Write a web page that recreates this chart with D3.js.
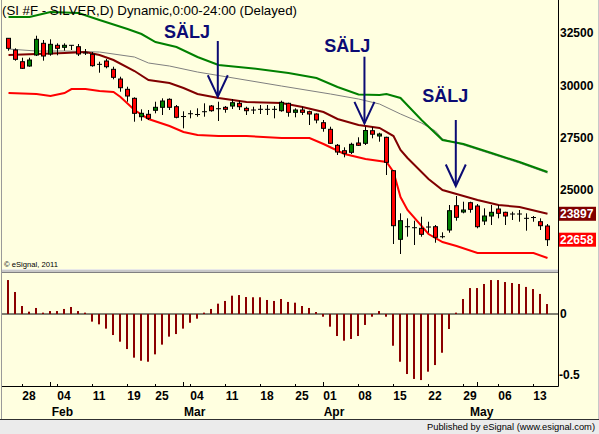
<!DOCTYPE html>
<html><head><meta charset="utf-8">
<script src="https://cdn.jsdelivr.net/npm/d3@7"></script>
<style>
body{margin:0;background:#fff}
svg{display:block}
text{font-family:"Liberation Sans",Arial,sans-serif}
</style>
</head><body>
<svg id="c" width="599" height="434"></svg>
<script>
// ---- data ----
const opens  = [32284,31725,31166,30960,31486,32045,31534,31950,31854,31950,31883,31582,31519,31041,31199,30802,30339,29846,29416,28537,28651,28843,28986,29368,29015,28546,28680,28642,28776,29048,28919,28986,29048,29177,28938,28857,28890,28890,28890,28824,29177,28747,28857,28776,28666,28250,27934,27170,26912,26835,27280,27265,27868,27614,27552,25956,22676,23279,23231,23202,23264,23279,22801,23121,24283,23981,24426,24268,23551,23790,24125,23967,23886,23886,23680,23718,23518,23312];
const highs  = [32299,31806,31357,31357,32409,32203,32236,32045,32045,31964,32012,31773,31629,31166,31295,30927,30449,29971,29464,28890,28857,29254,29416,29416,29096,28795,28843,28938,29177,29096,29254,29048,29383,29302,29015,29015,29096,29096,29048,29302,29206,28938,29015,28824,28699,28379,28059,27232,27074,27294,27552,28059,28044,27772,27581,25989,23919,23680,23566,23757,23518,23360,23011,24316,24746,24474,24474,24364,24158,24316,24316,23996,23996,24077,23919,23790,23680,23408];
const lows   = [31692,31214,30817,30927,31438,31214,31453,31472,31692,31725,31438,31486,30927,30640,30850,30324,29732,29254,28298,28346,28379,28699,28618,28857,28460,27982,28460,28537,28537,28776,28331,28728,28905,28857,28618,28666,28666,28618,28460,28776,28537,28508,28618,28140,28221,27820,27232,26706,26596,26754,27136,27184,27504,27342,25750,22452,21974,22801,22404,22801,22992,22514,22724,22992,23566,23919,23948,23202,23360,23360,23680,23360,23599,23518,23088,23518,23121,22356];
const closes = [31806,31280,30850,31247,32236,31438,31997,31806,31950,31950,31534,31582,30975,31041,30927,30420,29923,29526,28699,28699,28460,28986,29287,28986,28508,28546,28680,28642,28776,28824,28919,28890,29206,29015,28824,28857,28890,28890,28890,29225,28747,28857,28747,28666,28379,27982,27265,26849,26787,27217,27170,27877,27700,27710,26357,23327,23566,23279,23231,22915,23264,22772,22801,24044,23728,24077,24110,23279,23790,23967,23919,23790,23886,23886,23680,23718,23327,22658];

const histValues = [0.276,0.179,0.065,0.019,0.049,0.011,0.024,0.024,0.041,0.057,0.024,0.011,-0.062,-0.084,-0.119,-0.171,-0.225,-0.285,-0.355,-0.38,-0.388,-0.328,-0.249,-0.184,-0.163,-0.119,-0.071,-0.038,0.011,0.041,0.084,0.106,0.149,0.154,0.138,0.136,0.136,0.114,0.106,0.122,0.098,0.092,0.065,0.049,0.016,-0.022,-0.103,-0.179,-0.217,-0.203,-0.179,-0.089,-0.022,0.024,-0.022,-0.258,-0.388,-0.488,-0.528,-0.537,-0.469,-0.415,-0.315,-0.122,0.011,0.122,0.211,0.211,0.244,0.276,0.276,0.26,0.252,0.244,0.22,0.203,0.163,0.081];

// [day index, value]
const upperBand = [[0,33302],[3,33302],[6,33541],[10,33494],[13,33159],[17,32729],[19,32490],[21,32107],[24,31868],[27,31390],[30,31008],[35,30841],[40,30626],[44,30387],[47,29956],[50,29598],[53,29574],[54,29622],[56,29431],[59,28379],[62,27423],[65,27232],[69,26802],[73,26371],[77,25893]];
const grayAvg   = [[0,31773],[4,31677],[8,31677],[13,31629],[18,31390],[20,31104],[23,30960],[27,30673],[30,30506],[39,30004],[46,29622],[50,29383],[53,29144],[56,28666],[59,28235],[61,27853],[62,27471],[65,27184],[69,26754],[73,26324],[77,25845]];
const darkAvg   = [[0,31486],[4,31534],[8,31582],[11,31629],[13,31486],[15,31247],[18,30721],[20,30291],[23,30148],[25,29909],[27,29622],[30,29431],[34,29240],[39,29192],[42,29000],[45,28762],[47,28427],[50,28140],[53,27997],[55,27614],[56,26945],[57,26563],[60,25559],[62,25033],[64,24842],[67,24555],[70,24316],[73,24220],[77,23897]];
const lowerBand = [[0,29670],[4,29622],[6,29526],[8,29670],[9,29861],[11,29861],[13,29765],[15,29717],[16,29478],[18,28857],[20,28427],[23,28092],[25,27805],[27,27662],[30,27614],[34,27614],[39,27519],[43,27519],[45,27232],[48,26754],[51,26515],[54,26371],[55,25893],[56,24698],[57,24077],[60,22930],[62,22547],[64,22356],[67,22021],[70,22021],[75,22021],[77,21782]];

const priceTicks = [25000,27500,30000,32500];
const histTicks = [0,-0.5];
const dateTickIdx = [3,8,13,18,22,27,32,37,42,46,51,56,61,66,71,76];
const dateTickLabels = ["28","04","11","19","25","04","11","18","25","01","08","15","22","29","06","13"];
const weekTickIdx = [2,7,12,17,21,26,31,36,41,45,50,55,60,65,70,75];
const monthTickIdx = [6,25,45,67];
const monthIdx = [7.7,26.6,46.5,67.6];
const monthLabels = ["Feb","Mar","Apr","May"];

const lastDark = 23897, lastClose = 22658;

// sell signals: text position, arrow day, arrow top & tip prices
const signalText = ["SÄLJ","SÄLJ","SÄLJ"];
const signalTextIdx = [25.5,48.4,62.4];
const signalTextVal = [32313,31644,29225];
const signalArrowIdx = [29.9,50.85,63.9];
const signalArrowTop = [32155,31405,28379];
const signalArrowTip = [29493,28221,25224];

// ---- drawing ----
const svg = d3.select("#c");
const W = 599, H = 434;
const BG = "#FFFFE0";

svg.append("rect").attr("x",0).attr("y",0).attr("width",W).attr("height",419).attr("fill",BG);
// footer
svg.append("rect").attr("x",0).attr("y",419).attr("width",W).attr("height",15).attr("fill","#EBEBEB");
svg.append("line").attr("x1",0).attr("x2",W).attr("y1",419.5).attr("y2",419.5).attr("stroke","#303030");
svg.append("text").attr("x",595).attr("y",430).attr("text-anchor","end")
  .attr("font-size","9.5px").attr("fill","#000").attr("textLength",168).attr("lengthAdjust","spacingAndGlyphs")
  .text("Published by eSignal (www.esignal.com)");
// borders
svg.append("line").attr("x1",1.5).attr("x2",1.5).attr("y1",0).attr("y2",419).attr("stroke","#9a9a9a");
svg.append("line").attr("x1",598.5).attr("x2",598.5).attr("y1",0).attr("y2",419).attr("stroke","#c8c8c8");

const x = d3.scaleLinear().domain([0,77]).range([8.5,547.5]);
const y = d3.scaleLinear().domain([25000,32500]).range([190.7,33.8]);
const yh = d3.scaleLinear().domain([0,-0.5]).range([314,375.5]);

const AX = 558.5, AXB = 386.5;

// lines
const line = d3.line().x(d=>x(d[0])).y(d=>y(d[1]));
const up = svg.append("g");
up.append("path").datum(grayAvg).attr("d",line).attr("fill","none").attr("stroke","#808080").attr("stroke-width",1);
up.append("path").datum(upperBand).attr("d",line).attr("fill","none").attr("stroke","#008000").attr("stroke-width",2);
up.append("path").datum(lowerBand).attr("d",line).attr("fill","none").attr("stroke","#FF0000").attr("stroke-width",2);
up.append("path").datum(darkAvg).attr("d",line).attr("fill","none").attr("stroke","#800000").attr("stroke-width",2);

// candles
const candles = d3.range(opens.length).map(i=>({i,o:opens[i],h:highs[i],l:lows[i],c:closes[i]}));
const cg = svg.append("g");
cg.selectAll("line.w").data(candles).join("line")
  .attr("x1",d=>x(d.i)).attr("x2",d=>x(d.i))
  .attr("y1",d=>y(d.h)).attr("y2",d=>y(d.l))
  .attr("stroke","#000").attr("stroke-width",1);
cg.selectAll("rect.b").data(candles).join("rect")
  .attr("x",d=>x(d.i)-2).attr("width",4)
  .attr("y",d=>y(Math.max(d.o,d.c)))
  .attr("height",d=>Math.max(0.01,Math.abs(y(d.o)-y(d.c))))
  .attr("fill",d=>d.c>d.o?"#008000":(d.c<d.o?"#FF0000":"#000"))
  .attr("stroke","#000").attr("stroke-width",1);

// signals
const NAVY = "#0b0b74";
const sg = svg.append("g");
signalText.forEach((t,k)=>{
  sg.append("text").attr("x",x(signalTextIdx[k])).attr("y",y(signalTextVal[k]))
    .attr("text-anchor","middle").attr("font-size","18px").attr("font-weight","bold")
    .attr("fill",NAVY).text(t);
  const ax = x(signalArrowIdx[k]), top = y(signalArrowTop[k]), tip = y(signalArrowTip[k]);
  sg.append("line").attr("x1",ax).attr("x2",ax).attr("y1",top).attr("y2",tip)
    .attr("stroke",NAVY).attr("stroke-width",2);
  sg.append("path").attr("d",`M${ax-10},${tip-21.5}L${ax},${tip}L${ax+10},${tip-21.5}`)
    .attr("fill","none").attr("stroke",NAVY).attr("stroke-width",2);
});

// title
svg.append("text").attr("x",2).attr("y",15).attr("font-size","13px").attr("fill","#000")
  .attr("textLength",295).attr("lengthAdjust","spacingAndGlyphs")
  .text("(SI #F - SILVER,D) Dynamic,0:00-24:00 (Delayed)");
svg.append("text").attr("x",4).attr("y",267).attr("font-size","8px").attr("fill","#000")
  .attr("textLength",54).attr("lengthAdjust","spacingAndGlyphs").text("© eSignal, 2011");

// panel separator
svg.append("rect").attr("x",2).attr("y",269).attr("width",AX-2).attr("height",4).attr("fill","#c8c8c8");
svg.append("line").attr("x1",2).attr("x2",AX).attr("y1",269.5).attr("y2",269.5).attr("stroke","#e8e8e8");
svg.append("line").attr("x1",2).attr("x2",AX).attr("y1",272.5).attr("y2",272.5).attr("stroke","#808080");

// histogram
svg.append("line").attr("x1",2).attr("x2",AX).attr("y1",yh(0)).attr("y2",yh(0)).attr("stroke","#000");
svg.append("g").selectAll("rect").data(histValues).join("rect")
  .attr("x",(d,i)=>x(i)-1.5).attr("width",2)
  .attr("y",d=>Math.min(yh(0),yh(d))).attr("height",d=>Math.abs(yh(d)-yh(0)))
  .attr("fill","#8B0000");

// axes frame
svg.append("line").attr("x1",AX).attr("x2",AX).attr("y1",0).attr("y2",AXB).attr("stroke","#000");
svg.append("line").attr("x1",2).attr("x2",AX).attr("y1",AXB).attr("y2",AXB).attr("stroke","#000");

// right price axis labels
const lab = svg.append("g").attr("font-size","12px").attr("font-weight","bold");
lab.selectAll("text.p").data(priceTicks).join("text")
  .attr("x",560).attr("y",d=>y(d)+3.6).attr("fill","#000").text(d=>d);
lab.selectAll("text.h").data(histTicks).join("text")
  .attr("x",d=>d<0?559:560).attr("y",d=>yh(d)+3.8).attr("fill","#000").text(d=>d===0?"0":d);

// last value boxes
[[lastDark,"#800000"],[lastClose,"#FF0000"]].forEach(([v,col])=>{
  lab.append("rect").attr("x",559).attr("y",y(v)-7).attr("width",37).attr("height",14).attr("fill",col);
  lab.append("text").attr("x",560).attr("y",y(v)+4.2).attr("fill","#fff").text(v);
});

// bottom ticks and labels
const bt = svg.append("g");
bt.selectAll("line.wk").data(weekTickIdx).join("line")
  .attr("x1",d=>x(d)).attr("x2",d=>x(d)).attr("y1",AXB-2.5).attr("y2",AXB).attr("stroke","#000");
bt.selectAll("line.mo").data(monthTickIdx).join("line")
  .attr("x1",d=>x(d)).attr("x2",d=>x(d)).attr("y1",AXB-4.5).attr("y2",AXB).attr("stroke","#000");
bt.selectAll("text.d").data(dateTickIdx).join("text")
  .attr("x",d=>x(d)-0.5).attr("y",400).attr("text-anchor","middle")
  .attr("font-size","12px").attr("font-weight","bold").attr("fill","#000")
  .text((d,k)=>dateTickLabels[k]);
bt.selectAll("text.m").data(monthIdx).join("text")
  .attr("x",d=>x(d)).attr("y",416).attr("text-anchor","middle")
  .attr("font-size","12px").attr("font-weight","bold").attr("fill","#000")
  .text((d,k)=>monthLabels[k]);
</script>
</body></html>
